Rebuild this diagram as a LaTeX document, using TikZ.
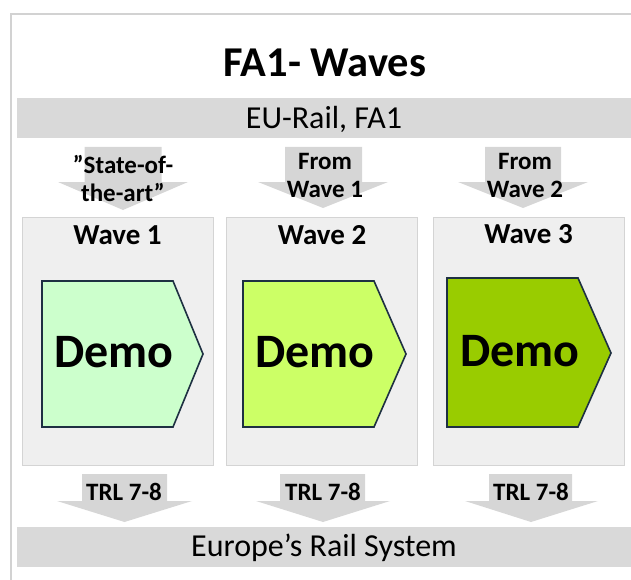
\documentclass[tikz,border=0pt]{standalone}
\usepackage{fontspec}
\setmainfont{Carlito}
\definecolor{framegray}{RGB}{210,210,210}
\definecolor{bargray}{RGB}{217,217,217}
\definecolor{boxgray}{RGB}{239,239,239}
\definecolor{boxline}{RGB}{212,212,212}
\definecolor{flowgray}{RGB}{214,214,214}
\definecolor{demoline}{RGB}{30,48,66}
\definecolor{demoA}{RGB}{204,255,204}
\definecolor{demoB}{RGB}{204,255,102}
\definecolor{demoC}{RGB}{153,204,0}

\begin{document}
\begin{tikzpicture}[
    x=1pt, y=-1pt,
    bar/.style={fill=bargray, draw=none, minimum width=614pt, minimum height=40pt, inner sep=0pt,
        font=\fontsize{32}{36}\selectfont, text height=20.6pt, text depth=0pt},
    wavebox/.style={fill=boxgray, draw=boxline, line width=1pt, minimum width=191pt, minimum height=248pt},
    wavetitle/.style={font=\bfseries\fontsize{29}{34}\selectfont, anchor=base, inner sep=0pt},
    demo/.style={fill=#1, draw=demoline, line width=1.6pt, line join=miter},
    demotext/.style={font=\bfseries\fontsize{48}{54}\selectfont, anchor=base, inner sep=0pt},
    flow/.style={fill=flowgray},
    flowtext/.style={font=\bfseries\fontsize{25}{28}\selectfont, align=center, anchor=base, inner sep=0pt}
]
\useasboundingbox (0,0) rectangle (631,580);

% Frame and title
\draw[framegray, line width=2.5pt] (11,580) -- (11,14) -- (631,14);
\node[font=\bfseries\fontsize{42.5}{48}\selectfont, anchor=base] (title) at (325,77) {FA1- Waves};

% Bars
\node[bar] (eurail) at (324,118.5) {EU-Rail, FA1};
\node[bar] (system) at (324,546.5) {Europe’s Rail System};

% Incoming arrows
\fill[flow] (84.5,147) -- (161.5,147) -- (161.5,182) -- (188,182) -- (123,210) -- (58,182) -- (84.5,182) -- cycle;
\fill[flow] (285,147) -- (362,147) -- (362,182) -- (388,182) -- (323,208) -- (258,182) -- (285,182) -- cycle;
\fill[flow] (485,147) -- (561,147) -- (561,182) -- (588,182) -- (523,208) -- (458,182) -- (485,182) -- cycle;
\node[flowtext] (in1) at (123,201) {”State-of-\\the-art”};
\node[flowtext] (in2) at (325,197) {From\\Wave 1};
\node[flowtext] (in3) at (525,197) {From\\Wave 2};

% Waves
\node[wavebox] (wave1) at (117.5,341) {};
\node[wavebox] (wave2) at (321.5,341) {};
\node[wavebox] (wave3) at (528.5,341) {};
\node[wavetitle] (w1) at (117.5,244) {Wave 1};
\node[wavetitle] (w2) at (322,244) {Wave 2};
\node[wavetitle] (w3) at (528.5,243) {Wave 3};

% Demo shapes
\draw[demo=demoA] (42,281) -- (173,281) -- (203,354) -- (173,427) -- (42,427) -- cycle;
\draw[demo=demoB] (243,281) -- (374,281) -- (406,354) -- (374,427) -- (243,427) -- cycle;
\draw[demo=demoC] (447,278) -- (578,278) -- (611,353) -- (578,427) -- (447,427) -- cycle;
\node[demotext] (d1) at (114,367) {Demo};
\node[demotext] (d2) at (315,367) {Demo};
\node[demotext] (d3) at (520,366) {Demo};

% Outgoing arrows
\fill[flow] (82,474) -- (167,474) -- (167,501) -- (192,501) -- (124.5,522) -- (57,501) -- (82,501) -- cycle;
\fill[flow] (280,474) -- (365,474) -- (365,501) -- (390,501) -- (323,522) -- (256,501) -- (280,501) -- cycle;
\fill[flow] (489,474) -- (572,474) -- (572,501) -- (598,501) -- (531,522) -- (465,501) -- (489,501) -- cycle;
\node[flowtext] (out1) at (124,500) {TRL 7-8};
\node[flowtext] (out2) at (323,500) {TRL 7-8};
\node[flowtext] (out3) at (531,500) {TRL 7-8};

\end{tikzpicture}
\end{document}
